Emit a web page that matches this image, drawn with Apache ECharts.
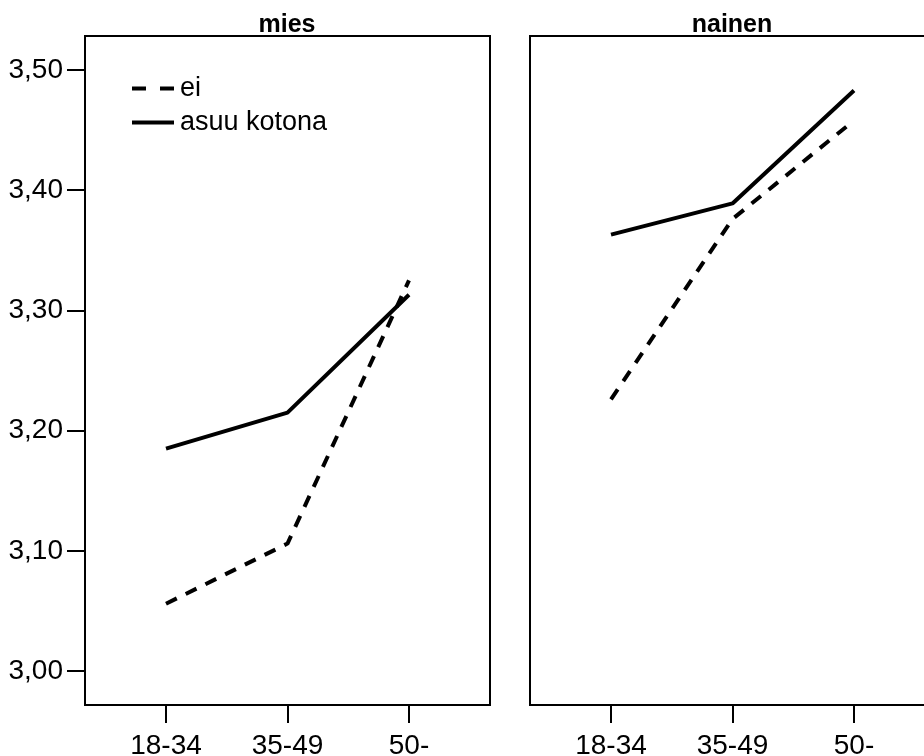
<!DOCTYPE html>
<html>
<head>
<meta charset="utf-8">
<script src="https://cdn.jsdelivr.net/npm/echarts@6/dist/echarts.min.js"></script>
<style>html,body{margin:0;padding:0;background:#fff}#c{width:924px;height:756px}</style>
</head>
<body>
<div id="c"></div>
<script>
var categories = ['18-34', '35-49', '50-'];
var panels = ['mies', 'nainen'];
var yTicks = [3.00, 3.10, 3.20, 3.30, 3.40, 3.50];
var miesEi = [3.056, 3.106, 3.325];
var miesAsuu = [3.185, 3.215, 3.313];
var nainenEi = [3.226, 3.376, 3.458];
var nainenAsuu = [3.363, 3.389, 3.483];

function pts(arr) { return arr.map(function (v, i) { return [i, v]; }); }

var font = 'Liberation Sans, Arial, sans-serif';
var chart = echarts.init(document.getElementById('c'));
var grids = [
  { left: 85, top: 36, width: 405, height: 669 },
  { left: 530, top: 36, width: 405, height: 669 }
].map(function (g) {
  return Object.assign({ show: true, borderColor: '#000', borderWidth: 2, backgroundColor: '#fff',
    containLabel: false, outerBoundsMode: 'none' }, g);
});

function xAxis(i) {
  return {
    type: 'value', gridIndex: i, min: -0.6667, max: 2.6667,
    axisLine: { show: false, onZero: false },
    splitLine: { show: false },
    axisTick: { show: true, length: 18, customValues: [0, 1, 2], lineStyle: { color: '#000', width: 2 } },
    axisLabel: { customValues: [0, 1, 2], margin: 27, fontSize: 28, color: '#000', fontFamily: font,
      formatter: function (v) { return categories[Math.round(v)]; } }
  };
}
function yAxis(i) {
  return {
    type: 'value', gridIndex: i, min: 2.9717, max: 3.5283,
    axisLine: { show: false, onZero: false },
    splitLine: { show: false },
    axisTick: { show: i === 0, length: 18, customValues: yTicks, lineStyle: { color: '#000', width: 2 } },
    axisLabel: { show: i === 0, customValues: yTicks, margin: 22, fontSize: 28, color: '#000', fontFamily: font,
      formatter: function (v) { return v.toFixed(2).replace('.', ','); } }
  };
}
var dashed = [12, 10];
function line(name, data, idx, dash) {
  return {
    name: name, type: 'line', xAxisIndex: idx, yAxisIndex: idx, data: pts(data),
    symbol: 'none', showSymbol: false, silent: true, animation: false,
    lineStyle: { color: '#000', width: 4, type: dash ? dashed : 'solid' },
    itemStyle: { color: '#000' }
  };
}
chart.setOption({
  animation: false,
  backgroundColor: '#fff',
  title: panels.map(function (p, i) {
    return { text: p, left: i === 0 ? 282 : 727, top: 8, textAlign: 'center',
      textStyle: { fontSize: 25, fontWeight: 'bold', color: '#000', fontFamily: font } };
  }),
  grid: grids,
  xAxis: [xAxis(0), xAxis(1)],
  yAxis: [yAxis(0), yAxis(1)],
  legend: {
    orient: 'vertical', left: 130, top: 75, padding: 0, itemWidth: 42, itemHeight: 14, itemGap: 7,
    textStyle: { fontSize: 27, color: '#000', fontFamily: font, padding: [0, 0, 0, 1] },
    selectedMode: false,
    data: [
      { name: 'ei', itemStyle: { opacity: 0 }, lineStyle: { type: [14, 14], width: 4, color: '#000' } },
      { name: 'asuu kotona', itemStyle: { opacity: 0 }, lineStyle: { width: 4, color: '#000' } }
    ]
  },
  series: [
    line('ei', miesEi, 0, true),
    line('asuu kotona', miesAsuu, 0, false),
    line('ei', nainenEi, 1, true),
    line('asuu kotona', nainenAsuu, 1, false)
  ]
});
</script>
</body>
</html>
